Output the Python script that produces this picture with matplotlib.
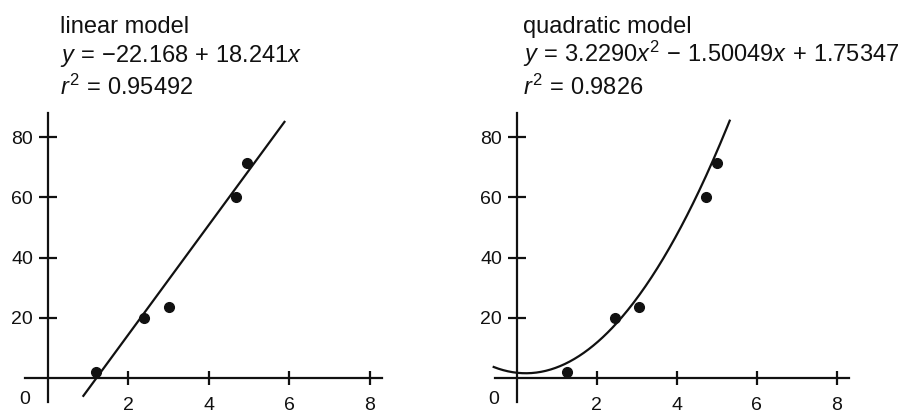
import matplotlib
matplotlib.use('Agg')
import matplotlib.pyplot as plt
import numpy as np

plt.rcParams['font.family'] = 'Liberation Sans'
plt.rcParams['mathtext.fontset'] = 'custom'
plt.rcParams['mathtext.rm'] = 'Liberation Sans'
plt.rcParams['mathtext.it'] = 'Liberation Sans:italic'
plt.rcParams['mathtext.bf'] = 'Liberation Sans:bold'

# data
x_data = [1.2, 2.4, 3.02, 4.68, 4.95]
y_data = [2.0, 20.0, 23.7, 60.0, 71.3]

# model coefficients printed on the chart
lin_coef = [18.241, -22.168]            # slope, intercept
quad_coef = [3.2290, -1.50049, 1.75347]  # x^2, x, const
lin_range = [0.89, 5.88]
quad_range = [-0.57, 5.33]

xticks = [2, 4, 6, 8]
yticks = [20, 40, 60, 80]

titles = [
    ['linear model', r'$y\,=\,{-}22.168\,+\,18.241x$', r'$r^2\,=\,0.95492$'],
    ['quadratic model', r'$y\,=\,3.2290x^2\,-\,1.50049x\,+\,1.75347$', r'$r^2\,=\,0.9826$'],
]

W, H = 901, 413
fig = plt.figure(figsize=(W / 100, H / 100), dpi=100)
ink = '#111111'


def add_panel(x0_px, y0_px, sx, sy, xlim, ylim):
    # place axes so that data origin lands on the given pixel
    left = x0_px + xlim[0] * sx
    right = x0_px + xlim[1] * sx
    bottom = y0_px - ylim[0] * sy
    top = y0_px - ylim[1] * sy
    ax = fig.add_axes([left / W, 1 - bottom / H, (right - left) / W, (bottom - top) / H])
    ax.set_xlim(xlim)
    ax.set_ylim(ylim)
    return ax


def style(ax):
    for s in ['top', 'right']:
        ax.spines[s].set_visible(False)
    ax.spines['left'].set_position(('data', 0))
    ax.spines['bottom'].set_position(('data', 0))
    ax.spines['left'].set_bounds(-8, 88)
    ax.spines['bottom'].set_bounds(-0.55, 8.3)
    for s in ['left', 'bottom']:
        ax.spines[s].set_linewidth(1.6)
        ax.spines[s].set_color(ink)
    ax.set_xticks(xticks)
    ax.set_yticks(yticks)
    ax.tick_params(axis='x', direction='inout', length=10, width=1.6, pad=8.5, labelsize=14, colors=ink)
    ax.tick_params(axis='y', direction='inout', length=13, width=1.6, pad=4, labelsize=14, colors=ink)
    ax.patch.set_visible(False)
    ax.text(-0.57, -7.3, '0', ha='center', va='center', fontsize=14, color=ink)


panels = [(47.5, 40.3), (516.5, 40.0)]
axes = []
for x0, sx in panels:
    ax = add_panel(x0, 378, sx, 3.01, (-1.1, 8.6), (-10, 90))
    style(ax)
    axes.append(ax)

ax1, ax2 = axes

xl = np.array(lin_range)
ax1.plot(xl, np.polyval(lin_coef, xl), color=ink, lw=1.6)
ax1.plot(x_data, y_data, 'o', color=ink, ms=7)

xq = np.linspace(quad_range[0], quad_range[1], 200)
ax2.plot(xq, np.polyval(quad_coef, xq), color=ink, lw=1.6)
ax2.plot([x + 0.05 for x in x_data], y_data, 'o', color=ink, ms=7)

for tx, lines in zip([60, 523], titles):
    for base, line in zip([33, 62, 95], lines):
        fig.text(tx / W, 1 - base / H, line, fontsize=17, color=ink, ha='left', va='baseline')

fig.savefig('out.png', dpi=100)
